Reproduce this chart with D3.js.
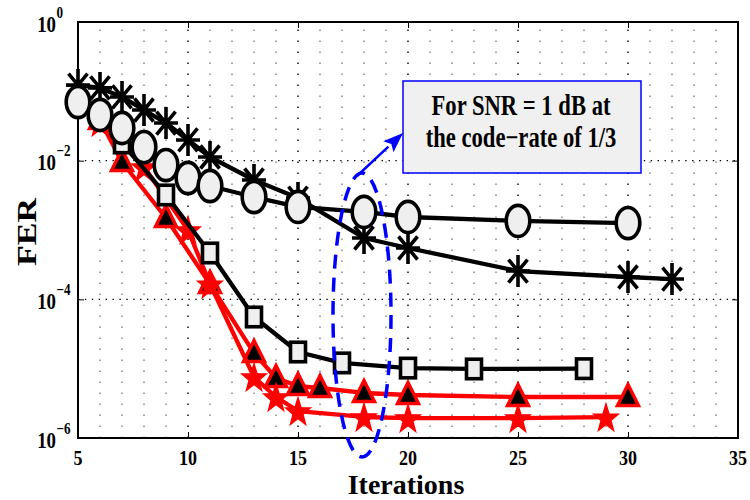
<!DOCTYPE html>
<html><head><meta charset="utf-8">
<script src="https://cdn.jsdelivr.net/npm/d3@7"></script>
<style>body{margin:0;background:#fff}svg{display:block}</style>
</head><body>
<svg id="c" width="750" height="500"></svg>
<script>
// ---- data ----
const circleX = [5,6,7,8,9,10,11,13,15,18,20,25,30];
const circleY = [0.070,0.0456,0.0296,0.0157,0.00865,0.00562,0.00431,0.00299,0.00215,0.00182,0.00154,0.00135,0.00126];
const asterX = [5,6,7,8,9,10,11,13,15,18,20,25,30,32];
const asterY = [0.123,0.112,0.083,0.0538,0.0349,0.0199,0.0113,0.00526,0.00289,0.000767,0.00055,0.000256,0.00021,0.000196];
const squareX = [7,9,11,13,15,17,20,23,28];
const squareY = [0.018,0.0032,0.000466,5.56e-5,1.74e-5,1.21e-5,1.02e-5,9.9e-6,1.0e-5];
const triX = [6,7,9,11,13,14,15,16,18,20,25,30];
const triY = [0.0386,0.00957,0.00149,1.66e-4,1.68e-5,7.33e-6,5.62e-6,5.26e-6,4.46e-6,4.17e-6,3.9e-6,3.9e-6];
const starX = [6,8,10,11,13,14,15,18,20,25,29];
const starY = [0.0361,0.0081,0.001,1.66e-4,7.58e-6,3.9e-6,2.45e-6,2.01e-6,1.94e-6,1.94e-6,2.0e-6];
const xTicks = [5,10,15,20,25,30,35];
const yTickExp = [0,-2,-4,-6];
const xLabel = "Iterations";
const yLabel = "FER";
const noteLines = ["For SNR = 1 dB at","the code\u2212rate of 1/3"];

// ---- setup ----
const svg = d3.select("#c");
const L=78,R=738,T=22,B=438;
const x = d3.scaleLinear().domain([5,35]).range([L,R]);
const y = d3.scaleLog().domain([1e-6,1]).range([B,T]);
const serif = "'Liberation Serif','Times New Roman',Times,serif";
const zip = (xs,ys)=>xs.map((v,i)=>[v,ys[i]]);

// grid
const g = svg.append("g");
d3.range(6,35).forEach(v=>{
  const major = v%5===0;
  g.append("line").attr("x1",x(v)).attr("x2",x(v)).attr("y1",B).attr("y2",T)
   .attr("stroke",major?"#000":"#808080").attr("stroke-width",1.4)
   .attr("stroke-dasharray","1.4,9.6");
});
[1e-2,1e-4].forEach(v=>{
  g.append("line").attr("x1",L).attr("x2",R).attr("y1",y(v)).attr("y2",y(v))
   .attr("stroke","#000").attr("stroke-width",1.3).attr("stroke-dasharray","1.4,5.5");
});

// axes with inside ticks
const ax = svg.append("g").attr("transform",`translate(0,${B})`)
  .call(d3.axisBottom(x).tickValues(xTicks).tickSize(-6).tickFormat(""));
const axT = svg.append("g").attr("transform",`translate(0,${T})`)
  .call(d3.axisTop(x).tickValues(xTicks).tickSize(-6).tickFormat(""));
const yv = yTickExp.map(e=>Math.pow(10,e));
const ayL = svg.append("g").attr("transform",`translate(${L},0)`)
  .call(d3.axisLeft(y).tickValues(yv).tickSize(-6).tickFormat(""));
const ayR = svg.append("g").attr("transform",`translate(${R},0)`)
  .call(d3.axisRight(y).tickValues(yv).tickSize(-6).tickFormat(""));
[ax,axT,ayL,ayR].forEach(a=>{a.select(".domain").remove();a.selectAll("line").attr("stroke","#000").attr("stroke-width",1);});
svg.append("rect").attr("x",L).attr("y",T).attr("width",R-L).attr("height",B-T)
  .attr("fill","none").attr("stroke","#000").attr("stroke-width",2);

// tick labels
xTicks.forEach(v=>{
  svg.append("text").attr("transform",`translate(${x(v)},464.5) scale(0.82,1)`)
    .attr("text-anchor","middle").attr("font-family",serif).attr("font-weight","bold")
    .attr("font-size",22).text(v);
});
yTickExp.forEach(e=>{
  const yy = y(Math.pow(10,e));
  svg.append("text").attr("transform",`translate(56,${yy+9.5}) scale(0.82,1)`)
    .attr("text-anchor","end").attr("font-family",serif).attr("font-weight","bold")
    .attr("font-size",23).text("10");
  svg.append("text").attr("transform",`translate(56.5,${yy-4.5}) scale(0.82,1)`)
    .attr("text-anchor","start").attr("font-family",serif).attr("font-weight","bold")
    .attr("font-size",16).text(e===0?"0":"\u2212"+Math.abs(e));
});

// axis labels
svg.append("text").attr("transform","translate(406,494) scale(1,1)")
  .attr("text-anchor","middle").attr("font-family",serif).attr("font-weight","bold")
  .attr("font-size",28).text(xLabel);
svg.append("text").attr("transform","translate(36,232) rotate(-90) scale(1,0.82)")
  .attr("text-anchor","middle").attr("font-family",serif).attr("font-weight","bold")
  .attr("font-size",34).text(yLabel);

// series
const line = d3.line().x(d=>x(d[0])).y(d=>y(d[1]));
function drawLine(data,color){
  svg.append("path").datum(data).attr("d",line).attr("fill","none")
    .attr("stroke",color).attr("stroke-width",4.3).attr("stroke-linejoin","round");
}
const triData = zip(triX,triY), starData = zip(starX,starY),
      sqData = zip(squareX,squareY), astData = zip(asterX,asterY), cirData = zip(circleX,circleY);

// triangles
drawLine(triData,"#ff0000");
svg.append("g").selectAll("path").data(triData).join("path")
  .attr("transform",d=>`translate(${x(d[0])},${y(d[1])})`)
  .attr("d","M0,-12.5L10.5,8.5L-10.5,8.5Z").attr("fill","#000").attr("stroke","#ff0000")
  .attr("stroke-width",3.4).attr("stroke-linejoin","miter");

// stars
drawLine(starData,"#ff0000");
const starPath = (()=>{
  const pts=[];const Ro=14.5,Ri=5.8;
  for(let i=0;i<10;i++){const a=-Math.PI/2+i*Math.PI/5;const r=i%2?Ri:Ro;
    pts.push([r*Math.cos(a)*0.88,r*Math.sin(a)+1.5]);}
  return "M"+pts.map(p=>p[0].toFixed(2)+","+p[1].toFixed(2)).join("L")+"Z";
})();
svg.append("g").selectAll("path").data(starData).join("path")
  .attr("transform",d=>`translate(${x(d[0])},${y(d[1])})`)
  .attr("d",starPath).attr("fill","#ff0000").attr("stroke","#ff0000").attr("stroke-width",1.5);

// squares
drawLine(sqData,"#000");
svg.append("g").selectAll("rect").data(sqData).join("rect")
  .attr("x",d=>x(d[0])-7.5).attr("y",d=>y(d[1])-9.75).attr("width",15).attr("height",19.5)
  .attr("fill","#efefef").attr("stroke","#000").attr("stroke-width",3.6);

// asterisks
drawLine(astData,"#000");
svg.append("g").selectAll("path").data(astData).join("path")
  .attr("transform",d=>`translate(${x(d[0])},${y(d[1])})`)
  .attr("d","M0,-16L0,16M-12,0L12,0M-9.5,-11.5L9.5,11.5M-9.5,11.5L9.5,-11.5")
  .attr("fill","none").attr("stroke","#000").attr("stroke-width",3.6);

// circles
drawLine(cirData,"#000");
svg.append("g").selectAll("ellipse").data(cirData).join("ellipse")
  .attr("cx",d=>x(d[0])).attr("cy",d=>y(d[1])).attr("rx",11.8).attr("ry",15.6)
  .attr("fill","#efefef").attr("stroke","#000").attr("stroke-width",3.6);

// annotation: ellipse
svg.append("ellipse").attr("cx",362).attr("cy",315).attr("rx",29).attr("ry",142)
  .attr("fill","none").attr("stroke","#0000ff").attr("stroke-width",3.5)
  .attr("stroke-dasharray","14,9");
// arrow
const ax0=357,ay0=176,ax1=403,ay1=133;
const ang=Math.atan2(ay1-ay0,ax1-ax0);
const hl=20,hw=7.5;
const bx=ax1-hl*Math.cos(ang),by=ay1-hl*Math.sin(ang);
svg.append("line").attr("x1",ax0).attr("y1",ay0).attr("x2",bx).attr("y2",by)
  .attr("stroke","#0000ff").attr("stroke-width",2.5);
svg.append("path").attr("d",`M${ax1},${ay1}L${bx+hw*Math.sin(ang)},${by-hw*Math.cos(ang)}L${bx+4*Math.cos(ang)},${by+4*Math.sin(ang)}L${bx-hw*Math.sin(ang)},${by+hw*Math.cos(ang)}Z`)
  .attr("fill","#0000ff");
// text box
svg.append("rect").attr("x",403).attr("y",81).attr("width",238).attr("height",92)
  .attr("fill","#f0f0f0").attr("stroke","#0000ff").attr("stroke-width",1.5);
noteLines.forEach((t,i)=>{
  svg.append("text").attr("transform",`translate(521,${115+i*32}) scale(0.78,1)`)
    .attr("text-anchor","middle").attr("font-family",serif).attr("font-weight","bold")
    .attr("font-size",29).text(t);
});
</script>
</body></html>
